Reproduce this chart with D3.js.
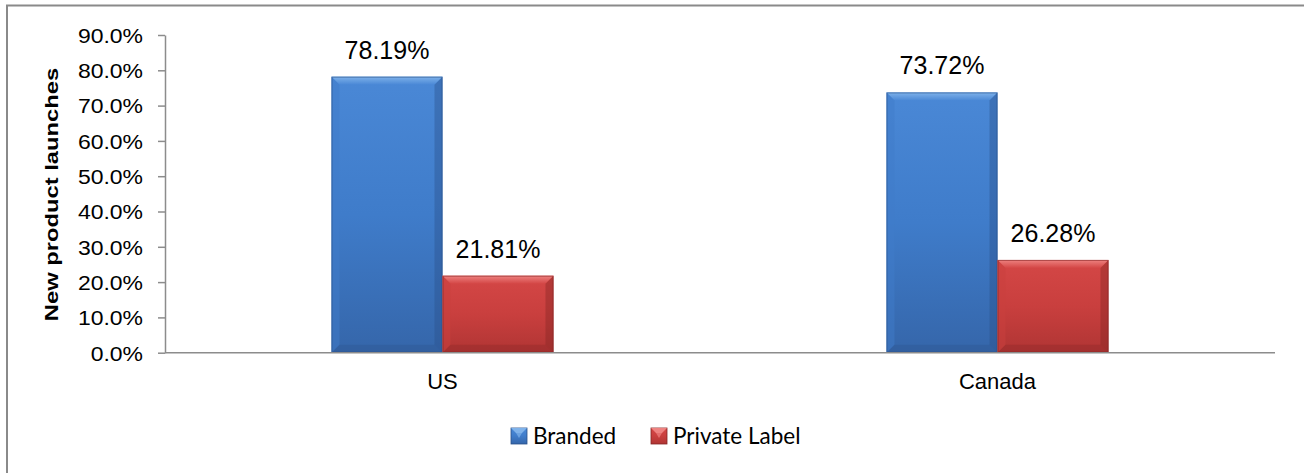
<!DOCTYPE html>
<html>
<head>
<meta charset="utf-8">
<script src="https://cdn.jsdelivr.net/npm/d3@7/dist/d3.min.js"></script>
<style>
  html, body { margin: 0; padding: 0; background: #fff; }
  svg { display: block; }
</style>
</head>
<body>
<svg id="chart" width="1304" height="473"></svg>
<script>
const categories = ["US", "Canada"];
const seriesNames = ["Branded", "Private Label"];
const branded = [0.7819, 0.7372];
const privateLabel = [0.2181, 0.2628];
const yTicks = [0, 0.1, 0.2, 0.3, 0.4, 0.5, 0.6, 0.7, 0.8, 0.9];
const yTitle = "New product launches";

const seriesValues = [branded, privateLabel];
const palette = {
  "Branded": { top: "#4a88d6", mid: "#3f7cca", bot: "#3566aa", light: "#7fb2ea", dark: "#2a5189" },
  "Private Label": { top: "#d44746", mid: "#c93f3e", bot: "#b03534", light: "#ee8280", dark: "#842524" }
};

const svg = d3.select("#chart");
const defs = svg.append("defs");
seriesNames.forEach((s, i) => {
  const g = defs.append("linearGradient").attr("id", "grad" + i)
    .attr("x1", 0).attr("y1", 0).attr("x2", 0).attr("y2", 1);
  g.append("stop").attr("offset", "0%").attr("stop-color", palette[s].top);
  g.append("stop").attr("offset", "50%").attr("stop-color", palette[s].mid);
  g.append("stop").attr("offset", "100%").attr("stop-color", palette[s].bot);
  const t = defs.append("linearGradient").attr("id", "bev" + i)
    .attr("x1", 0).attr("y1", 0).attr("x2", 0).attr("y2", 1);
  t.append("stop").attr("offset", "0%").attr("stop-color", palette[s].light);
  t.append("stop").attr("offset", "100%").attr("stop-color", palette[s].top);
});

// outer border
svg.append("rect").attr("x", 7).attr("y", 5.5).attr("width", 1320).attr("height", 500)
  .attr("fill", "none").attr("stroke", "#8a8a8a").attr("stroke-width", 2);

const plotL = 165, plotR = 1275, plotT = 35, plotB = 352.7;
const y = d3.scaleLinear().domain([0, 0.9]).range([plotB, plotT]);
const x0 = d3.scaleBand().domain(categories).range([plotL, plotR]).padding(0);
const bw = x0.bandwidth();
const x1 = d3.scaleBand().domain(seriesNames).range([bw * 0.3, bw * 0.7]).padding(0);

// y axis
const yAxis = svg.append("g").attr("transform", `translate(${plotL},0)`)
  .call(d3.axisLeft(y).tickValues(yTicks).tickFormat(d3.format(".1%")).tickSize(7).tickSizeOuter(0));
yAxis.select(".domain").attr("stroke", "#8c8c8c").attr("stroke-width", 1.5);
yAxis.selectAll(".tick line").attr("stroke", "#8c8c8c").attr("stroke-width", 1.5);
yAxis.selectAll(".tick text")
  .attr("x", 0).attr("dy", "0.36em")
  .attr("transform", "translate(-22,0) scale(1.12,1)")
  .attr("font-family", "Liberation Sans, Arial, sans-serif")
  .attr("font-size", 20.5).attr("fill", "#000").attr("text-anchor", "end");

// bars
const b = 8;
categories.forEach((c, ci) => {
  seriesNames.forEach((s, si) => {
    const v = seriesValues[si][ci];
    const bx = x0(c) + x1(s), w = x1.bandwidth();
    const ty = y(v), h = y(0) - y(v);
    const g = svg.append("g");
    g.append("rect").attr("x", bx).attr("y", ty).attr("width", w).attr("height", h)
      .attr("fill", `url(#grad${si})`);
    g.append("path").attr("d", `M${bx},${ty}L${bx + w},${ty}L${bx + w - b},${ty + b}L${bx + b},${ty + b}Z`)
      .attr("fill", `url(#bev${si})`);
    g.append("path").attr("d", `M${bx},${ty}L${bx + b},${ty + b}L${bx + b},${ty + h - b}L${bx},${ty + h}Z`)
      .attr("fill", palette[s].mid).attr("opacity", 0.5);
    g.append("path").attr("d", `M${bx + w},${ty}L${bx + w},${ty + h}L${bx + w - b},${ty + h - b}L${bx + w - b},${ty + b}Z`)
      .attr("fill", palette[s].dark).attr("opacity", 0.4);
    g.append("path").attr("d", `M${bx},${ty + h}L${bx + w},${ty + h}L${bx + w - b},${ty + h - b}L${bx + b},${ty + h - b}Z`)
      .attr("fill", palette[s].dark).attr("opacity", 0.3);
    g.append("rect").attr("x", bx + 0.5).attr("y", ty + 0.5).attr("width", w - 1).attr("height", h - 1)
      .attr("fill", "none").attr("stroke", palette[s].dark).attr("stroke-width", 1).attr("opacity", 0.6);
    svg.append("text").attr("x", bx + w / 2).attr("y", ty - 18)
      .attr("text-anchor", "middle")
      .attr("font-family", "Liberation Sans, Arial, sans-serif")
      .attr("font-size", 25).attr("fill", "#000")
      .text(d3.format(".2%")(v));
  });
});

// x axis line
svg.append("line").attr("x1", plotL).attr("x2", plotR).attr("y1", plotB).attr("y2", plotB)
  .attr("stroke", "#8c8c8c").attr("stroke-width", 1.5);

// category labels
svg.selectAll(".cat").data(categories).enter().append("text")
  .attr("x", d => x0(d) + bw / 2).attr("y", 389)
  .attr("text-anchor", "middle")
  .attr("font-family", "Liberation Sans, Arial, sans-serif")
  .attr("font-size", 22).attr("fill", "#000")
  .text(d => d);

// y title
svg.append("text")
  .attr("transform", `translate(58,194.5) rotate(-90) scale(1.32,1)`)
  .attr("text-anchor", "middle")
  .attr("font-family", "Liberation Sans, Arial, sans-serif")
  .attr("font-weight", "bold").attr("font-size", 18).attr("fill", "#000")
  .text(yTitle);

// legend
const legendX = [511, 651];
seriesNames.forEach((s, i) => {
  const lx = legendX[i], ly = 428, sz = 16, lb = 5;
  const g = svg.append("g");
  g.append("rect").attr("x", lx).attr("y", ly).attr("width", sz).attr("height", sz)
    .attr("fill", `url(#grad${i})`).attr("stroke", palette[s].dark).attr("stroke-width", 0.8);
  g.append("path").attr("d", `M${lx},${ly}L${lx + sz},${ly}L${lx + sz - lb},${ly + lb}L${lx + lb},${ly + lb}Z`)
    .attr("fill", palette[s].light);
  g.append("path").attr("d", `M${lx + lb},${ly + lb}L${lx + sz - lb},${ly + lb}L${lx + sz / 2},${ly + sz * 0.62}Z`)
    .attr("fill", palette[s].light).attr("opacity", 0.7);
  svg.append("text").attr("x", lx + 22).attr("y", ly + 16)
    .attr("font-family", "Lato, 'Open Sans', sans-serif")
    .attr("font-size", 22.5).attr("fill", "#000")
    .text(s);
});
</script>
</body>
</html>
